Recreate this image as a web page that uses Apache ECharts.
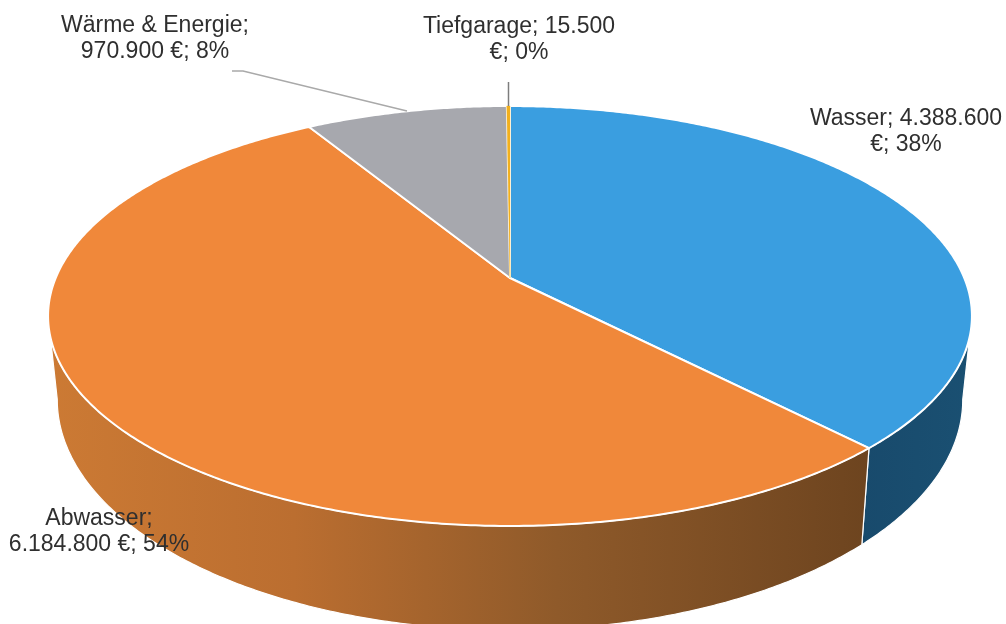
<!DOCTYPE html>
<html>
<head>
<meta charset="utf-8">
<style>
  html, body { margin: 0; padding: 0; background: #fff; }
  #kosten { width: 1006px; height: 624px; }
</style>
<script src="https://cdn.jsdelivr.net/npm/echarts@6/dist/echarts.min.js"></script>
</head>
<body>
<div id="kosten"></div>
<script>
var names = ['Wasser', 'Abwasser', 'Wärme & Energie', 'Tiefgarage'];
var values = [4388600, 6184800, 970900, 15500];
// where the label wraps: after the name or after the amount
var labelBreaks = ['amount', 'name', 'name', 'amount'];

var topColors = ['#3a9ee0', '#f0883a', '#a7a8ae', '#f2b01e'];
var edgeColors = ['#ffffff', '#ffffff', '#ffffff', '#f2b01e'];
var edgeWidths = [2, 2, 1.8, 0.4];
var sideStops = [
  [[0, '#184a6c'], [1, '#1a5072']],
  [[0, '#cc7a34'], [0.3, '#bb6e30'], [0.62, '#8f5a2a'], [1, '#6d441f']],
  [[0, '#77787c'], [1, '#77787c']],
  [[0, '#a87a14'], [1, '#a87a14']]
];
var labelSpots = [[155, 39], [99, 532], [906, 132], [519, 40]];
var labelOrder = [2, 1, 0, 3];

// perspective of the tilted disc, fitted to the picture
var cx = 510, depth = 5.525;
var topDisc = { y0: 278, ax: 2510, ay: 1122 };
var lowDisc = { y0: 358, ax: 2460, ay: 1231 };
// visible part of the outer wall, degrees clockwise from 12 o'clock
var wallFrom = 100.4, wallTo = 259.6;

var total = 0;
for (var i = 0; i < values.length; i++) total += values[i];

var pieData = [];
var running = 0;
for (var i = 0; i < values.length; i++) {
  var a0 = running / total * 360;
  running += values[i];
  pieData.push({ name: names[i], value: [values[i], a0, running / total * 360, i] });
}

function project(disc, deg) {
  var r = deg * Math.PI / 180;
  var X = Math.sin(r), Y = -Math.cos(r);
  return [cx + disc.ax * X / (depth - Y), disc.y0 + disc.ay * Y / (depth - Y)];
}

function arc(disc, from, to) {
  var pts = [];
  var steps = Math.max(2, Math.ceil((to - from) * 2));
  for (var s = 0; s <= steps; s++) {
    pts.push(project(disc, from + (to - from) * s / steps));
  }
  return pts;
}

function renderTop(params, api) {
  var idx = api.value(3);
  var pts = arc(topDisc, api.value(1), api.value(2));
  pts.push([cx, topDisc.y0]);
  return {
    type: 'polygon',
    shape: { points: pts },
    style: { fill: topColors[idx], stroke: edgeColors[idx], lineWidth: edgeWidths[idx], lineJoin: 'round' }
  };
}

function renderWall(params, api) {
  var idx = api.value(3);
  var from = Math.max(api.value(1), wallFrom);
  var to = Math.min(api.value(2), wallTo);
  if (to <= from) return;
  var pts = arc(topDisc, from, to).concat(arc(lowDisc, from, to).reverse());
  return {
    type: 'polygon',
    shape: { points: pts },
    style: {
      stroke: '#ffffff',
      lineWidth: 1.2,
      fill: new echarts.graphic.LinearGradient(0, 0, 1, 0, sideStops[idx].map(function (s) {
        return { offset: s[0], color: s[1] };
      }))
    }
  };
}

function labelText(i) {
  var amount = values[i].toLocaleString('de-DE');
  var pct = Math.round(values[i] / total * 100);
  if (labelBreaks[i] == 'name') return names[i] + ';\n' + amount + ' €; ' + pct + '%';
  return names[i] + '; ' + amount + '\n€; ' + pct + '%';
}

var labelGraphics = [];
for (var k = 0; k < labelOrder.length; k++) {
  labelGraphics.push({
    type: 'text',
    x: labelSpots[k][0],
    y: labelSpots[k][1],
    z: 20,
    silent: true,
    style: {
      text: labelText(labelOrder[k]),
      fill: '#2f2f2f',
      font: '23px "Liberation Sans", Arial, sans-serif',
      lineHeight: 26,
      align: 'center',
      verticalAlign: 'middle'
    }
  });
}
// leader lines of the two labels above the pie
labelGraphics.push({
  type: 'polyline', z: 15, silent: true,
  shape: { points: [[232, 71], [243, 71], [407, 111]] },
  style: { stroke: '#a9a9a9', lineWidth: 1.3, fill: null }
});
labelGraphics.push({
  type: 'line', z: 15, silent: true,
  shape: { x1: 508.5, y1: 82, x2: 508.5, y2: 106 },
  style: { stroke: '#7d7d7d', lineWidth: 1.5 }
});

var chart = echarts.init(document.getElementById('kosten'));
chart.setOption({
  backgroundColor: '#ffffff',
  animation: false,
  tooltip: { show: false },
  series: [
    { type: 'custom', coordinateSystem: 'none', z: 1, silent: true, clip: false, renderItem: renderWall, data: pieData },
    { type: 'custom', coordinateSystem: 'none', z: 2, silent: true, clip: false, renderItem: renderTop, data: pieData }
  ],
  graphic: labelGraphics
});
</script>
</body>
</html>
